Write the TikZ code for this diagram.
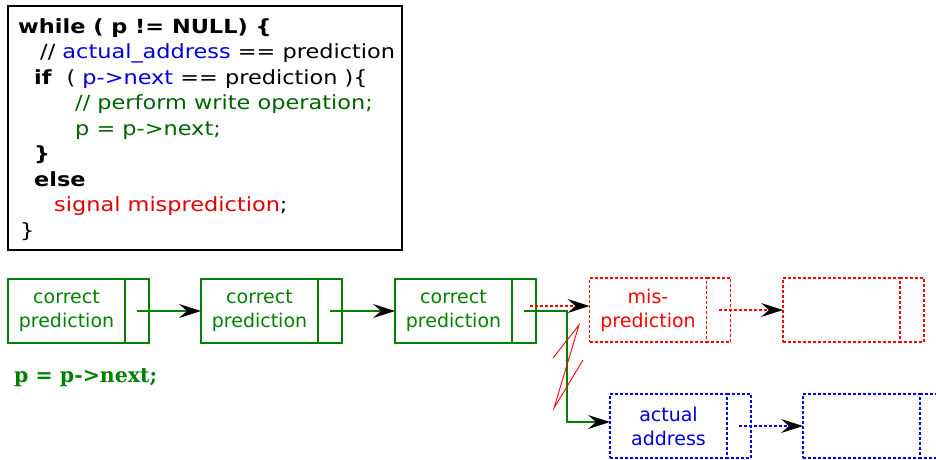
\documentclass[tikz,border=0pt]{standalone}
\usepackage{fontspec}
\setmainfont{DejaVu Sans}
\newfontfamily\codefont[FakeStretch=1.15]{DejaVu Sans}
\newfontfamily\codeserif{DejaVu Serif}
\usetikzlibrary{positioning, calc, arrows.meta}
\definecolor{okgreen}{RGB}{0,128,0}
\definecolor{codegreen}{RGB}{0,100,0}
\definecolor{addrblue}{RGB}{0,0,215}
\definecolor{misred}{RGB}{225,0,0}

\begin{document}
\begin{tikzpicture}
    [x=1pt, y=-1pt,
    cell/.style={rectangle, draw, outer sep=0pt, inner sep=0pt, minimum width=117pt, minimum height=64pt, align=center, font=\fontsize{19}{24}\selectfont},
    ptr/.style={rectangle, outer sep=0pt, inner sep=0pt, minimum width=24pt, minimum height=64pt},
    good/.style={draw=okgreen, text=okgreen, line width=1.2pt},
    bad/.style={draw=red, text=red, line width=1.1pt, dash pattern=on 3pt off 2pt},
    real/.style={draw=blue, text=addrblue, line width=1.1pt, dash pattern=on 3pt off 2pt},
    tip/.style={-{Stealth[black, length=22pt, width=14pt, inset=8pt]}}]
\useasboundingbox (0,0) rectangle (936,459);
% code listing
\node[draw, line width=1.3pt, outer sep=0pt, minimum width=394pt, minimum height=244pt, anchor=north west] (codebox) at (8,6) {};
\node[anchor=base west, align=left, inner sep=0pt, font=\codefont\fontsize{19.5}{25.5}\selectfont] (code) at (18,237)
    {\textbf{while ( p != NULL) \{}\\
     \hspace*{22pt}// \textcolor{addrblue}{actual\_address} == prediction\\
     \hspace*{16pt}\textbf{if}\enspace\hspace{5pt}( \textcolor{addrblue}{p->next} == prediction )\{\\
     \hspace*{57pt}\textcolor{codegreen}{// perform write operation;}\\
     \hspace*{57pt}\textcolor{codegreen}{p = p->next;}\\
     \hspace*{16pt}\textbf{\}}\\
     \hspace*{16pt}\textbf{else}\\
     \hspace*{36pt}\textcolor{misred}{signal misprediction};\\
     \hspace*{2pt}\}};
% list that was predicted
\node[cell, good] (c1) at (66.5,311) {correct\\prediction};
\node[ptr, right=0pt of c1] (p1) {};
\node[cell, good] (c2) at (259.5,311) {correct\\prediction};
\node[ptr, right=0pt of c2] (p2) {};
\node[cell, good] (c3) at (453.5,311) {correct\\prediction};
\node[ptr, right=0pt of c3] (p3) {};
\node[cell, bad] (c4) at (648,310) {mis-\\prediction};
\node[ptr, right=0pt of c4] (p4) {};
\node[cell, bad] (c5) at (841.5,310) {};
\node[ptr, right=0pt of c5] (p5) {};
% list that is really there
\node[cell, real] (c6) at (668.5,426) {actual\\address};
\node[ptr, right=0pt of c6] (p6) {};
\node[cell, real] (c7) at (861.5,426) {};
\node[ptr, right=0pt of c7] (p7) {};
\foreach \p/\s in {p1/good, p2/good, p3/good, p4/bad, p5/bad, p6/real, p7/real}
    \draw[\s] (\p.north west) -- (\p.north east) -- (\p.south east) -- (\p.south west);
\node[anchor=base west, inner sep=0pt, text=okgreen, font=\codeserif\bfseries\fontsize{20.5}{24}\selectfont] (step) at (14,382) {p = p->next;};
% pointers
\draw[good, tip] (p1.center) -- (c2.west);
\draw[good, tip] (p2.center) -- (c3.west);
\draw[bad, tip] ($(p3.center)+(6,-5)$) -- ($(c4.west)+(0,-4)$);
\draw[bad, tip] (p4.center) -- (c5.west);
\draw[good, tip] (p3.center) -| ($(p3.center)!.5!(c6.west)$) |- ($(c6.west)+(0,-4)$);
\draw[real, tip] (p6.center) -- (c7.west);
\draw[red, line width=0.9pt] (553,358) -- (579,325) -- (554,408) -- (583,360);
\end{tikzpicture}
\end{document}
